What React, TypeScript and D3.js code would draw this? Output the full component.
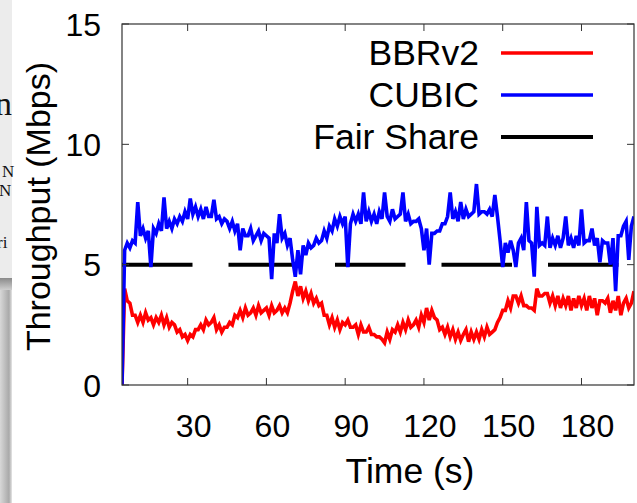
import React from "react";
import * as d3 from "d3";

const START_TIME = 5;
const xTicks = [30, 60, 90, 120, 150, 180];
const yTicks = [0, 5, 10, 15];
const seriesNames = ["BBRv2", "CUBIC", "Fair Share"];
const fairShare = 5;

// CUBIC throughput (Mbps), one value per second from t=5 to t=200
const cubic = [
  0, 5.6, 5.9, 5.7, 6.0,
  5.9, 7.6, 6.2, 6.5, 6.1, 6.4, 4.9, 6.5, 6.3, 6.7,
  6.4, 7.8, 6.5, 6.8, 6.5, 6.9, 6.7, 7.0, 6.8, 7.2,
  6.9, 7.75, 7.1, 7.4, 7.0, 7.3, 6.9, 7.4, 7.0, 7.0,
  7.7, 6.9, 7.0, 6.7, 6.9, 6.8, 6.5, 6.8, 6.4, 6.7,
  5.6, 6.5, 6.2, 6.2, 6.5, 6.0, 6.2, 6.4, 6.0, 6.3,
  6.2, 6.1, 4.4, 6.3, 5.9, 7.1, 6.1, 6.3, 5.8, 6.1,
  5.2, 4.5, 5.6, 4.6, 5.8, 5.4, 5.9, 5.7, 5.8, 6.1,
  5.9, 6.0, 6.4, 6.1, 6.6, 6.4, 6.9, 6.6, 7.0, 6.7,
  7.0, 4.9, 6.7, 7.1, 6.8, 7.1, 6.7, 8.0, 6.8, 7.2,
  6.8, 7.1, 6.7, 7.2, 6.9, 8.0, 7.0, 6.8, 7.3, 6.9,
  7.0, 7.1, 8.0, 6.8, 7.1, 6.7, 6.8, 6.8, 6.9, 6.5,
  5.6, 6.5, 5.0, 6.3, 6.3, 6.4, 6.4, 6.7, 6.7, 7.0,
  8.0, 6.9, 7.2, 6.8, 7.6, 6.9, 7.3, 7.0, 7.1, 7.2,
  8.35, 7.1, 7.2, 7.2, 7.1, 7.3, 7.0, 7.9, 7.0, 6.0,
  4.9, 5.9, 5.5, 6.0, 5.6, 4.9, 5.9, 6.1, 5.6, 7.6,
  6.0, 5.9, 4.5, 7.4, 5.8, 5.9, 5.8, 7.0, 5.7, 6.1,
  5.8, 6.2, 5.7, 6.1, 7.0, 5.8, 6.1, 5.7, 6.2, 5.8,
  7.3, 5.9, 6.0, 6.0, 6.5, 5.8, 6.1, 5.1, 6.0, 5.9,
  5.9, 5.0, 6.1, 3.9, 6.2, 6.2, 6.6, 6.8, 5.2, 6.6,
  7.0,
];

// BBRv2 throughput (Mbps), one value per second from t=5 to t=200
const bbrv2 = [
  0, 4.0, 3.5, 3.4, 2.9,
  2.9, 2.6, 2.9, 2.6, 3.0, 2.7, 2.8, 2.5, 2.8, 2.6,
  2.9, 2.5, 2.8, 2.4, 2.6, 2.5, 2.2, 2.3, 2.0, 2.1,
  1.85, 2.1, 2.0, 2.3, 2.3, 2.5, 2.3, 2.7, 2.5, 2.6,
  2.8, 2.3, 2.5, 2.2, 2.4, 2.4, 2.6, 2.5, 2.9, 2.8,
  3.1, 2.8, 3.2, 2.9, 3.0, 3.2, 2.9, 3.3, 3.0, 3.1,
  3.2, 2.9, 3.3, 3.0, 3.1, 3.3, 3.0, 3.2, 3.0, 3.4,
  3.9, 4.3, 3.7, 4.1, 3.6, 3.9, 3.5, 3.8, 3.4, 3.6,
  3.3, 3.4, 2.9, 2.9, 2.5, 2.8, 2.4, 2.7, 2.3, 2.6,
  2.5, 2.7, 2.4, 2.4, 2.5, 2.1, 2.5, 2.2, 2.2, 2.4,
  2.1, 2.1, 2.0, 2.0, 1.9, 1.75, 2.2, 1.9, 2.3, 2.2,
  2.5, 2.2, 2.6, 2.3, 2.7, 2.4, 2.5, 2.7, 2.4, 2.9,
  2.6, 3.2, 2.7, 3.1, 2.8, 2.7, 2.3, 2.4, 2.1, 2.4,
  2.0, 2.3, 1.9, 2.2, 1.85, 2.1, 2.3, 1.8, 2.2, 1.9,
  2.2, 1.9, 2.3, 2.0, 2.4, 2.1, 2.2, 2.3, 2.6, 2.8,
  3.1, 3.1, 3.5, 3.2, 3.7, 3.7, 3.4, 3.7, 3.3, 3.3,
  3.2, 3.2, 3.1, 4.0, 3.7, 3.7, 3.8, 3.8, 3.4, 3.7,
  3.3, 3.7, 3.2, 3.6, 3.3, 3.7, 3.1, 3.6, 3.2, 3.7,
  3.3, 3.6, 3.1, 3.7, 3.2, 3.6, 2.9, 3.5, 3.5, 3.4,
  3.6, 3.0, 3.5, 3.1, 3.7, 2.9, 3.4, 3.6, 3.2, 3.4,
  3.9,
];

const W = 637;
const H = 503;
const M = { left: 122, right: 634, top: 24, bottom: 385 };
const FONT = "'Liberation Sans', Arial, Helvetica, sans-serif";

export default function App() {
  const x = d3.scaleLinear().domain([5, 200]).range([M.left, M.right]);
  const y = d3.scaleLinear().domain([0, 15]).range([M.bottom, M.top]);
  const line = d3
    .line<number>()
    .x((_, i) => x(START_TIME + i))
    .y((d) => y(d));

  const colors = ["#ff0000", "#0000ff", "#000000"];
  const legendY = [53, 95, 137];

  return (
    <svg
      width={W}
      height={H}
      style={{ position: "fixed", left: 0, top: 0, background: "#fff" }}
    >
      <defs>
        <clipPath id="plotclip">
          <rect x={M.left} y={M.top} width={M.right - M.left} height={M.bottom - M.top} />
        </clipPath>
        <linearGradient id="strip" x1="0" x2="1" y1="0" y2="0">
          <stop offset="0" stopColor="#d8d8d8" />
          <stop offset="0.75" stopColor="#a9a9a9" />
          <stop offset="1" stopColor="#e6e6e6" />
        </linearGradient>
        <linearGradient id="shadow" x1="0" x2="0" y1="0" y2="1">
          <stop offset="0" stopColor="#8a8a8a" />
          <stop offset="1" stopColor="#cfcfcf" />
        </linearGradient>
      </defs>

      {/* background paper fragment on the left */}
      <rect x={0} y={0} width={12} height={278} fill="#ececec" />
      <rect x={0} y={278} width={12} height={12} fill="url(#shadow)" />
      <rect x={0} y={290} width={12} height={H - 290} fill="url(#strip)" />
      <g fontFamily="'Liberation Serif', 'DejaVu Serif', serif" fill="#111">
        <text x={-5} y={115} fontSize={34}>n</text>
        <text x={2} y={177} fontSize={17}>N</text>
        <text x={-1} y={196} fontSize={17}>N</text>
        <text x={-3} y={248} fontSize={17}>ri</text>
      </g>

      {/* data */}
      <g clipPath="url(#plotclip)">
        <line
          x1={x(5)}
          x2={x(200)}
          y1={y(fairShare)}
          y2={y(fairShare)}
          stroke="#000"
          strokeWidth={4}
          strokeDasharray="70.5 36"
        />
        <path d={line(bbrv2) || ""} fill="none" stroke="#ff0000" strokeWidth={3.6} strokeLinejoin="miter" />
        <path d={line(cubic) || ""} fill="none" stroke="#0000ff" strokeWidth={3.6} strokeLinejoin="miter" />
      </g>

      {/* frame */}
      <rect
        x={M.left}
        y={M.top}
        width={M.right - M.left}
        height={M.bottom - M.top}
        fill="none"
        stroke="#333"
        strokeWidth={1.2}
      />
      {xTicks.map((t) => (
        <g key={"xt" + t}>
          <line x1={x(t)} x2={x(t)} y1={M.bottom} y2={M.bottom - 7} stroke="#333" />
          <line x1={x(t)} x2={x(t)} y1={M.top} y2={M.top + 7} stroke="#333" />
          <text
            x={x(t) + 6}
            y={437}
            textAnchor="middle"
            fontFamily={FONT}
            fontSize={32}
            fill="#000"
          >
            {t}
          </text>
        </g>
      ))}
      {yTicks.map((v) => (
        <g key={"yt" + v}>
          <line x1={M.left} x2={M.left + 7} y1={y(v)} y2={y(v)} stroke="#333" />
          <line x1={M.right} x2={M.right - 7} y1={y(v)} y2={y(v)} stroke="#333" />
          <text
            x={101}
            y={y(v)}
            dy="0.36em"
            textAnchor="end"
            fontFamily={FONT}
            fontSize={32}
            fill="#000"
          >
            {v}
          </text>
        </g>
      ))}

      {/* axis titles */}
      <text x={410} y={483} textAnchor="middle" fontFamily={FONT} fontSize={35.5} fill="#000">
        Time (s)
      </text>
      <text
        transform={`translate(50,${(M.top + M.bottom) / 2 + 2}) rotate(-90)`}
        textAnchor="middle"
        fontFamily={FONT}
        fontSize={34}
        fill="#000"
      >
        Throughput (Mbps)
      </text>

      {/* legend */}
      {seriesNames.map((name, i) => (
        <g key={name}>
          <text
            x={479}
            y={legendY[i] + 12}
            textAnchor="end"
            fontFamily={FONT}
            fontSize={35.5}
            fill="#000"
          >
            {name}
          </text>
          <line
            x1={501}
            x2={593}
            y1={legendY[i]}
            y2={legendY[i]}
            stroke={colors[i]}
            strokeWidth={i === 2 ? 4 : 3.4}
          />
        </g>
      ))}
    </svg>
  );
}
